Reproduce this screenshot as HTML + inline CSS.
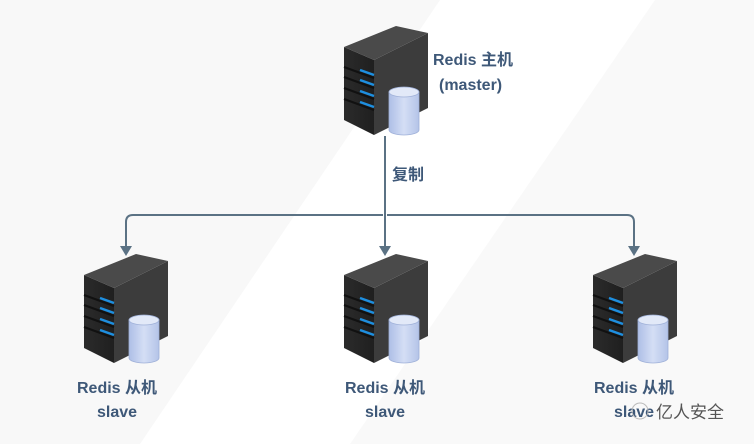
<!DOCTYPE html>
<html><head><meta charset="utf-8"><style>
html,body{margin:0;padding:0;background:#fff;}
svg{display:block;}
text{font-family:"Liberation Sans","Noto Sans CJK SC",sans-serif;font-weight:bold;font-size:16px;fill:#3e5878;}
</style></head><body>
<svg width="754" height="444" viewBox="0 0 754 444" xmlns="http://www.w3.org/2000/svg">
<defs>
<linearGradient id="cyl" x1="0" x2="1" y1="0" y2="0">
<stop offset="0" stop-color="#aebfe6"/><stop offset="0.5" stop-color="#d4def5"/><stop offset="1" stop-color="#b4c4e8"/></linearGradient>
<linearGradient id="front" x1="0" x2="1"><stop offset="0" stop-color="#2b2b2b"/><stop offset="1" stop-color="#1f1f1f"/></linearGradient>
<g id="srv">
<polygon points="0,21 30,34 30,109 0,94" fill="url(#front)"/>
<polygon points="30,34 84,7 84,82 30,109" fill="#3c3c3c"/>
<polygon points="0,21 52,0 84,7 30,34" fill="#4a4a4a"/>
<g stroke="#111" stroke-width="2">
<line x1="0" y1="41" x2="30" y2="52"/><line x1="0" y1="51" x2="30" y2="62"/><line x1="0" y1="62" x2="30" y2="73"/><line x1="0" y1="73" x2="30" y2="84"/></g>
<g stroke="#1e8fe0" stroke-width="2.5">
<line x1="16" y1="44" x2="30" y2="49"/><line x1="16" y1="54" x2="30" y2="59"/><line x1="16" y1="65" x2="30" y2="70"/><line x1="16" y1="76" x2="30" y2="81"/></g>
<path d="M45,66 L45,104 A15,5 0 0 0 75,104 L75,66 Z" fill="url(#cyl)" stroke="#9fb0d8" stroke-width="0.8"/>
<ellipse cx="60" cy="66" rx="15" ry="5" fill="#e2e9f8" stroke="#9fb0d8" stroke-width="0.8"/>
</g>
</defs>
<polygon points="0,0 440,0 140,444 0,444" fill="#f8f8f8"/>
<polygon points="655,0 754,0 754,444 350,444" fill="#f9f9f9"/>
<use href="#srv" x="344" y="26"/>
<use href="#srv" x="84" y="254"/>
<use href="#srv" x="344" y="254"/>
<use href="#srv" x="593" y="254"/>
<g fill="none" stroke="#5b7284" stroke-width="2">
<line x1="385" y1="136" x2="385" y2="250"/>
<path d="M383,215 L133,215 Q126,215 126,222 L126,250"/>
<path d="M387,215 L627,215 Q634,215 634,222 L634,250"/>
</g>
<g fill="#5b7284">
<polygon points="120,246 132,246 126,256"/>
<polygon points="379,246 391,246 385,256"/>
<polygon points="628,246 640,246 634,256"/>
</g>
<text x="433" y="65">Redis 主机</text>
<text x="439" y="90">(master)</text>
<text x="392" y="180">复制</text>
<text x="117" y="393" text-anchor="middle">Redis 从机</text>
<text x="117" y="417" text-anchor="middle">slave</text>
<text x="385" y="393" text-anchor="middle">Redis 从机</text>
<text x="385" y="417" text-anchor="middle">slave</text>
<text x="634" y="393" text-anchor="middle">Redis 从机</text>
<text x="634" y="417" text-anchor="middle">slave</text>
<circle cx="640" cy="411" r="8" fill="none" stroke="#bbb" stroke-width="1"/>
<text x="656" y="418" style="fill:#555;font-weight:normal;font-size:17px">亿人安全</text>
</svg>
</body></html>
